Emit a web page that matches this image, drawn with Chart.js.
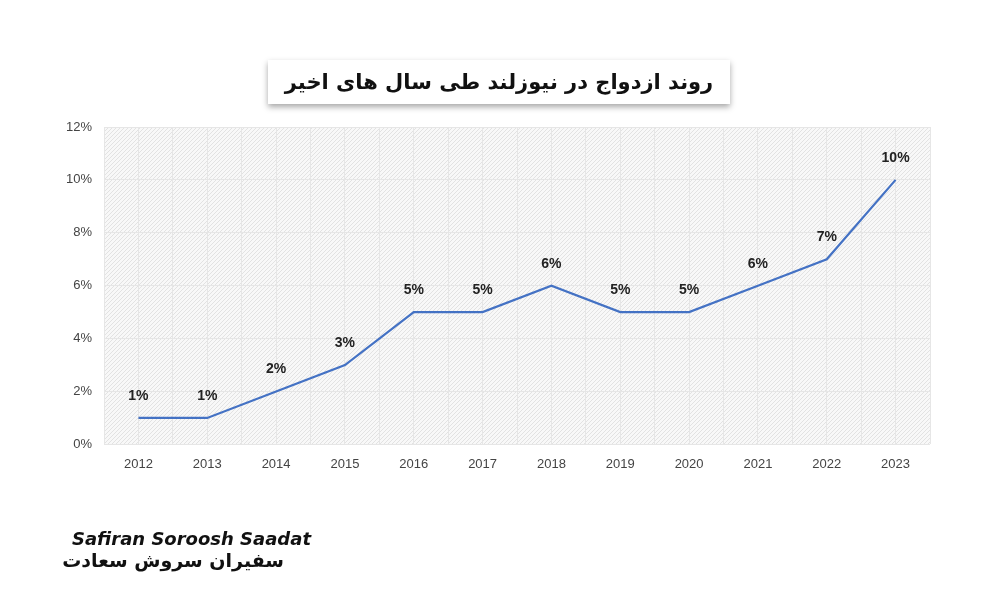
<!DOCTYPE html>
<html>
<head>
<meta charset="utf-8">
<script src="https://cdn.jsdelivr.net/npm/chart.js@4"></script>
<style>
  body { margin: 0; background: #fff; }
  #wrap { position: relative; width: 1000px; height: 600px; }
  #title {
    position: absolute; left: 268px; top: 60px; width: 462px; height: 44px;
    background: #fff; box-shadow: 0 3px 6px rgba(0,0,0,0.35); white-space: nowrap;
    font: bold 21px "DejaVu Sans", sans-serif; text-align: center; line-height: 44px; direction: rtl;
    color: #111;
  }
  #logo { position: absolute; left: 72px; top: 528px; white-space: nowrap; font-family: "DejaVu Sans", sans-serif; }
</style>
</head>
<body>
<div id="wrap">
  <canvas id="c" width="1000" height="600"></canvas>
  <div id="title">روند ازدواج در نیوزلند طی سال های اخیر</div>
  <div id="logo">
    <div style="font: italic bold 18px 'DejaVu Sans'; color:#111;">Safiran Soroosh Saadat</div>
    <div style="font: bold 19px 'DejaVu Sans'; color:#111; direction:rtl; text-align:right; width:212px;">سفیران سروش سعادت</div>
  </div>
</div>
<script>
const years = [2012, 2013, 2014, 2015, 2016, 2017, 2018, 2019, 2020, 2021, 2022, 2023];
const rates = [1, 1, 2, 3, 5, 5, 6, 5, 5, 6, 7, 10];
const yTicks = [0, 2, 4, 6, 8, 10, 12];

function hatch() {
  const p = document.createElement("canvas");
  p.width = 4; p.height = 4;
  const g = p.getContext("2d");
  g.fillStyle = "#f8f8f8"; g.fillRect(0, 0, 4, 4);
  g.strokeStyle = "#e2e2e2"; g.lineWidth = 1;
  g.beginPath(); g.moveTo(0, 4); g.lineTo(4, 0); g.stroke();
  return g.createPattern(p, "repeat");
}

const bgPlugin = {
  id: "bg",
  beforeDraw(chart) {
    const { ctx, chartArea: a } = chart;
    ctx.save();
    ctx.fillStyle = hatch();
    ctx.fillRect(a.left, a.top, a.right - a.left, a.bottom - a.top);
    ctx.restore();
  },
};

const labelPlugin = {
  id: "labels",
  afterDatasetsDraw(chart) {
    const { ctx } = chart;
    const meta = chart.getDatasetMeta(0);
    ctx.save();
    ctx.font = "bold 14px 'Liberation Sans', sans-serif";
    ctx.fillStyle = "#222";
    ctx.textAlign = "center";
    ctx.textBaseline = "bottom";
    meta.data.forEach((pt, i) => {
      ctx.fillText(rates[i] + "%", pt.x, pt.y - 15);
    });
    ctx.restore();
  },
};

new Chart(document.getElementById("c"), {
  type: "line",
  data: {
    datasets: [{
      data: years.map((y, i) => ({ x: y, y: rates[i] })),
      borderColor: "#4472c4",
      borderWidth: 2.2,
      pointRadius: 0,
      tension: 0,
    }],
  },
  options: {
    responsive: false,
    animation: false,
    layout: { padding: { top: 127, left: 54, right: 70, bottom: 116 } },
    plugins: { legend: { display: false }, tooltip: { enabled: false } },
    scales: {
      x: {
        type: "linear", min: 2011.5, max: 2023.5,
        afterBuildTicks: (s) => { s.ticks = []; for (let v = 2011.5; v <= 2023.5; v += 0.5) s.ticks.push({ value: v }); },
        grid: { color: "#e6e6e6", drawTicks: false },
        border: { display: false },
        ticks: {
          padding: 12, color: "#444", font: { family: "Liberation Sans", size: 13 },
          autoSkip: false, maxRotation: 0,
          callback: (v) => (Number.isInteger(v) ? String(v) : ""),
        },
      },
      y: {
        min: 0, max: 12,
        afterBuildTicks: (s) => { s.ticks = yTicks.map((v) => ({ value: v })); },
        grid: { color: "#e6e6e6", drawTicks: false },
        border: { display: false },
        ticks: {
          padding: 12, color: "#444", font: { family: "Liberation Sans", size: 13 },
          callback: (v) => v + "%",
        },
      },
    },
  },
  plugins: [bgPlugin, labelPlugin],
});
</script>
</body>
</html>
